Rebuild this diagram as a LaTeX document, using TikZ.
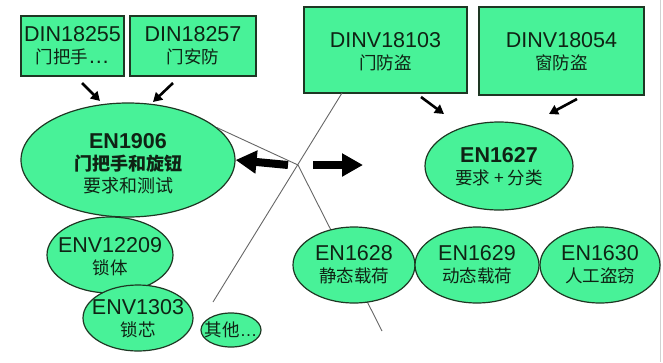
\documentclass[tikz,border=0pt]{standalone}
\usepackage{fontspec}
\setmainfont{Liberation Sans}
\newfontfamily\cjk{Noto Sans CJK SC}
\usetikzlibrary{shapes.geometric, arrows.meta}
\definecolor{normgreen}{RGB}{72, 242, 152}
\definecolor{normedge}{RGB}{30, 55, 35}
\definecolor{normink}{RGB}{15, 35, 20}
\newcommand{\zh}[1]{{\cjk\fontsize{17.5}{22}\selectfont #1}}

\begin{document}
\begin{tikzpicture}[x=1pt, y=-1pt,
    normbox/.style={draw=normedge, fill=normgreen, line width=1.2pt, inner sep=0pt},
    normoval/.style={ellipse, draw=normedge, fill=normgreen, line width=1.2pt, inner sep=0pt},
    normtext/.style={align=center, text=normink, inner sep=0pt, font=\fontsize{21.5}{22}\selectfont},
    fatarrow/.style={line width=8pt, -{Triangle[length=21pt, width=22pt]}},
    thinarrow/.style={line width=2.6pt, -{Triangle[length=9pt, width=10pt]}},
    crossline/.style={draw=black!60, line width=0.9pt}]
                \useasboundingbox (0,0) rectangle (663,362);
                \draw[black!18, line width=1pt] (660,0) -- (660,362);

                % DIN boxes
                \node[normbox, minimum width=103, minimum height=60] (din18255) at (72.5,46) {};
                \node[normbox, minimum width=126, minimum height=60] (din18257) at (193,46) {};
                \node[normbox, minimum width=163, minimum height=86] (dinv18103) at (385.5,50) {};
                \node[normbox, minimum width=165, minimum height=88] (dinv18054) at (561.5,51) {};
                \node[normtext] (t18255) at (din18255) {DIN18255\\\zh{门把手}…};
                \node[normtext] (t18257) at (din18257) {DIN18257\\\zh{门安防}};
                \node[normtext] (t18103) at ([yshift=-2pt]dinv18103.center) {DINV18103\\\zh{门防盗}};
                \node[normtext] (t18054) at ([yshift=-1pt]dinv18054.center) {DINV18054\\\zh{窗防盗}};

                % EN1906 and its parts
                \node[normoval, minimum width=214, minimum height=114] (en1906) at (128,160) {};
                \node[normtext] (t1906) at ([yshift=-4pt]en1906.center)
                    {\textbf{EN1906}\\{\cjk\bfseries\fontsize{18}{22}\selectfont 门把手和旋钮}\\{\cjk\fontsize{18}{22}\selectfont 要求和测试}};

                % Crossing lines
                \coordinate (cross) at (298,165);
                \coordinate (upperend) at (342,93);
                \coordinate (lowerend) at (213,302);
                \coordinate (bottomend) at (382,331);
                \draw[crossline] (upperend) -- (lowerend);
                \draw[crossline] (en1906.20) -- (cross) -- (bottomend);

                \node[normoval, minimum width=126, minimum height=76] (env12209) at (110,255) {};
                \node[normtext] (t12209) at ([yshift=-2pt]env12209.center) {ENV12209\\\zh{锁体}};
                \node[normoval, minimum width=110, minimum height=66] (env1303) at (138,318) {};
                \node[normtext] (t1303) at ([yshift=-1pt]env1303.center) {ENV1303\\\zh{锁芯}};
                \node[normoval, minimum width=60, minimum height=34] (misc) at (231,330) {};
                \node[normtext, font=\fontsize{17.5}{22}\selectfont] (tmisc) at (misc) {\zh{其他}…};

                % EN1627 and its parts
                \node[normoval, minimum width=148, minimum height=88] (en1627) at (499,166) {};
                \node[normtext] (t1627) at ([yshift=-1pt]en1627.center) {\textbf{EN1627}\\\zh{要求 + 分类}};
                \node[normoval, minimum width=122, minimum height=76] (en1628) at (354,265) {};
                \node[normoval, minimum width=124, minimum height=76] (en1629) at (477,265) {};
                \node[normoval, minimum width=120, minimum height=76] (en1630) at (600,265) {};
                \node[normtext] (t1628) at (en1628) {EN1628\\\zh{静态载荷}};
                \node[normtext] (t1629) at (en1629) {EN1629\\\zh{动态载荷}};
                \node[normtext] (t1630) at (en1630) {EN1630\\\zh{人工盗窃}};

                % Thick arrows
                \coordinate (lefttail) at (288,165);
                \coordinate (righttail) at (313,165);
                \coordinate (righttip) at (363,165);
                \draw[fatarrow] (lefttail) -- (en1906.east);
                \draw[fatarrow] (righttail) -- (righttip);

                % Small arrows
                \foreach \name/\fx/\fy/\tx/\ty in {a/82/83/100/101, b/173/83/153/102,
                                                   c/421/97/444/114, d/577/99/549/114} {
                    \coordinate (\name from) at (\fx,\fy);
                    \coordinate (\name to) at (\tx,\ty);
                    \draw[thinarrow] (\name from) -- (\name to);
                }
            \end{tikzpicture}
\end{document}
